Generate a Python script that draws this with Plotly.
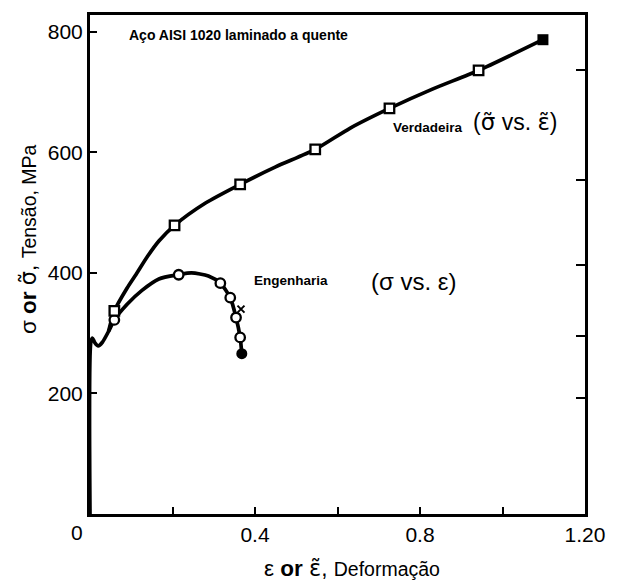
import plotly.graph_objects as go

# ---------------- data ----------------
# Engineering curve (sigma vs eps) – path of the drawn line
eng_curve_x = [0.0, 0.002, 0.006, 0.012, 0.020, 0.030, 0.045, 0.059, 0.090, 0.126, 0.167, 0.215, 0.246, 0.287, 0.316, 0.340, 0.354, 0.364, 0.368]
eng_curve_y = [0, 285, 292, 284, 279, 285, 303, 322, 348, 371, 390, 397, 400, 395, 383, 359, 326, 293, 266]
# Engineering data points (open circles) and fracture point (filled)
eng_pts_x = [0.059, 0.215, 0.316, 0.340, 0.354, 0.364]
eng_pts_y = [322, 397, 383, 359, 326, 293]
eng_end_x = [0.368]
eng_end_y = [266]
# small tick mark on the engineering curve
eng_mark_x = [0.366]
eng_mark_y = [340]

# True curve (sigma~ vs eps~)
true_curve_x = [0.045, 0.059, 0.090, 0.112, 0.140, 0.167, 0.205, 0.280, 0.364, 0.450, 0.546, 0.630, 0.726, 0.830, 0.942, 1.098]
true_curve_y = [303, 337, 375, 398, 428, 453, 479, 516, 547, 576, 605, 640, 673, 705, 736, 787]
true_pts_x = [0.059, 0.205, 0.364, 0.546, 0.726, 0.942]
true_pts_y = [337, 479, 547, 605, 673, 736]
true_end_x = [1.098]
true_end_y = [787]

# axis ticks
x_tickvals = [0, 0.2, 0.4, 0.6, 0.8, 1.0, 1.2]
x_ticktext = ["", "", "0.4", "", "0.8", "", "1.20"]
y_tickvals = [200, 400, 600, 800]
y_ticktext = ["200", "400", "600", "800"]
right_tickvals = [193, 295, 413, 554, 737]

FONT = "Liberation Sans, Arial, sans-serif"
DV = "font-family:DejaVu Sans"
BLACK = "#000000"

def tilde(ch):
    return f"<span style='{DV}'>{ch}\u0303</span>"

fig = go.Figure()

fig.add_trace(go.Scatter(x=eng_curve_x, y=eng_curve_y, mode="lines",
                         line=dict(color=BLACK, width=3.7, shape="spline", smoothing=0.7),
                         hoverinfo="skip", showlegend=False))
fig.add_trace(go.Scatter(x=true_curve_x, y=true_curve_y, mode="lines",
                         line=dict(color=BLACK, width=3.7, shape="spline", smoothing=0.7),
                         hoverinfo="skip", showlegend=False))
fig.add_trace(go.Scatter(x=eng_pts_x, y=eng_pts_y, mode="markers",
                         marker=dict(symbol="circle", size=9.5, color="white",
                                     line=dict(color=BLACK, width=2.3)),
                         showlegend=False))
fig.add_trace(go.Scatter(x=true_pts_x, y=true_pts_y, mode="markers",
                         marker=dict(symbol="square", size=9.5, color="white",
                                     line=dict(color=BLACK, width=2.3)),
                         showlegend=False))
fig.add_trace(go.Scatter(x=eng_end_x, y=eng_end_y, mode="markers",
                         marker=dict(symbol="circle", size=11, color=BLACK),
                         showlegend=False))
fig.add_trace(go.Scatter(x=true_end_x, y=true_end_y, mode="markers",
                         marker=dict(symbol="square", size=11, color=BLACK),
                         showlegend=False))
fig.add_trace(go.Scatter(x=eng_mark_x, y=eng_mark_y, mode="markers",
                         marker=dict(symbol="x-thin", size=7, color=BLACK,
                                     line=dict(color=BLACK, width=2)),
                         showlegend=False))
# invisible trace on the right-hand axis so its ticks are drawn
fig.add_trace(go.Scatter(x=[0], y=[0], mode="markers", yaxis="y2",
                         marker=dict(size=1, color="rgba(0,0,0,0)"),
                         hoverinfo="skip", showlegend=False))

fig.update_layout(
    width=617, height=581,
    margin=dict(l=90, r=27, t=13, b=67),
    paper_bgcolor="white", plot_bgcolor="white",
    font=dict(family=FONT, color=BLACK, size=21),
    xaxis=dict(range=[0, 1.2], tickvals=x_tickvals, ticktext=x_ticktext,
               ticks="inside", ticklen=7, tickwidth=1.5, tickcolor=BLACK,
               showline=True, linewidth=3, linecolor=BLACK, mirror=True,
               showgrid=False, zeroline=False,
               tickfont=dict(family=FONT, size=21, color=BLACK)),
    yaxis=dict(range=[0, 828], tickvals=y_tickvals, ticktext=y_ticktext,
               ticks="inside", ticklen=7, tickwidth=1.5, tickcolor=BLACK,
               showline=True, linewidth=3, linecolor=BLACK, mirror=True,
               showgrid=False, zeroline=False,
               tickfont=dict(family=FONT, size=21, color=BLACK)),
    yaxis2=dict(range=[0, 828], overlaying="y", side="right",
                tickvals=right_tickvals, ticktext=[""] * len(right_tickvals),
                ticks="inside", ticklen=9, tickwidth=1.5, tickcolor=BLACK,
                showline=False, showgrid=False, zeroline=False),
)

ann = [
    dict(text="0", x=0, y=0, xref="x", yref="paper", xshift=-13, yshift=-18,
         showarrow=False, font=dict(size=21), xanchor="center", yanchor="middle"),
    dict(text="<b>Aço AISI 1020 laminado a quente</b>", x=0.09, y=795, xref="x", yref="y",
         showarrow=False, font=dict(size=14), xanchor="left", yanchor="middle"),
    dict(text="<b>Verdadeira</b>", x=0.91, y=641, xref="x", yref="y",
         showarrow=False, font=dict(size=13.5), xanchor="right", yanchor="middle"),
    dict(text="(" + tilde("σ") + " vs. " + tilde("ε") + ")", x=0.924, y=651, xref="x", yref="y",
         showarrow=False, font=dict(size=23), xanchor="left", yanchor="middle"),
    dict(text="<b>Engenharia</b>", x=0.583, y=388, xref="x", yref="y",
         showarrow=False, font=dict(size=13.5), xanchor="right", yanchor="middle"),
    dict(text="(σ vs. ε)", x=0.677, y=385, xref="x", yref="y",
         showarrow=False, font=dict(size=24), xanchor="left", yanchor="middle"),
    dict(text="ε <b>or</b> " + tilde("ε") + ", <span style='font-size:19.5px'>Deformação</span>",
         x=0.53, y=0, xref="paper", yref="paper", yshift=-54,
         showarrow=False, font=dict(size=22.5), xanchor="center", yanchor="middle"),
    dict(text="σ <b>or</b> " + tilde("σ") + ", <span style='font-size:19.5px'>Tensão, MPa</span>",
         x=0, y=0.551, xref="paper", yref="paper", xshift=-62,
         showarrow=False, font=dict(size=22.5), textangle=-90,
         xanchor="center", yanchor="middle"),
]
fig.update_layout(annotations=ann)

fig.write_html("out.html")
